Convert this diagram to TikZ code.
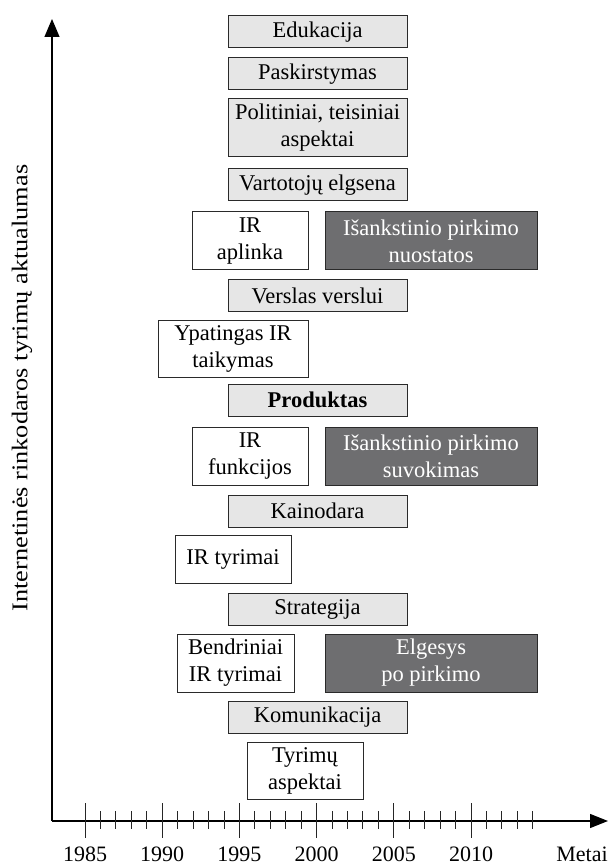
\documentclass[tikz,border=0pt]{standalone}
\usepackage{fontspec}
\setmainfont{Liberation Serif}
\usetikzlibrary{arrows.meta}
\definecolor{lightbox}{HTML}{E6E6E6}
\definecolor{darkbox}{HTML}{6E6E70}
\definecolor{edge}{HTML}{2A2A2A}
\begin{document}
\begin{tikzpicture}[x=1pt,y=-1pt,
  every node/.style={font=\fontsize{22.5}{27}\selectfont, align=center, inner sep=0pt},
  topic/.style={draw=edge, line width=1pt, fill=lightbox, minimum width=179pt, minimum height=32pt},
  topictall/.style={topic, minimum height=58pt},
  itbox/.style={draw=edge, line width=1pt, fill=white, minimum width=116pt, minimum height=58pt},
  stagebox/.style={draw=edge, line width=1pt, fill=darkbox, text=white, minimum width=212pt, minimum height=58pt},
  axisline/.style={line width=1.2pt, draw=black},
  tickline/.style={line width=0.9pt, draw=black!85},
  yearlabel/.style={font=\fontsize{22}{24}\selectfont}
]
\useasboundingbox (0,0) rectangle (612,866);

% axes
\coordinate (O) at (52,821);
\coordinate (xend) at (608,821);
\coordinate (yend) at (52,19);
\draw[axisline, -{Triangle[length=18pt,width=14pt]}] (O) -- (xend);
\draw[axisline, -{Triangle[length=18pt,width=15pt]}] (O) -- (yend);

% ticks
\foreach \k in {0,...,29}{
  \pgfmathsetmacro{\tx}{85+15.44*\k}
  \pgfmathtruncatemacro{\m}{mod(\k,5)}
  \ifnum\m=0
    \draw[tickline] (\tx,803) -- (\tx,838);
  \else
    \draw[tickline] (\tx,811) -- (\tx,829);
  \fi
}
\foreach \yr [count=\i from 0] in {1985,1990,1995,2000,2005,2010}{
  \node[yearlabel] (yr\yr) at (85+77.2*\i,854) {\yr};
}
\node[yearlabel] (metai) at (582,854) {Metai};

\node[rotate=90] (ylab) at (22,388) {\scalebox{1.17}[1]{Internetinės rinkodaros tyrimų aktualumas}};

% boxes
\node[topic] (edu) at (317.5,32) {Edukacija};
\node[topic] (pask) at (317.5,74) {Paskirstymas};
\node[topictall] (pol) at (317.5,128) {Politiniai, teisiniai\\aspektai};
\node[topic] (vart) at (317.5,185) {Vartotojų elgsena};
\node[itbox] (irapl) at (250,241) {IR\\aplinka};
\node[stagebox] (nuost) at (431,241) {Išankstinio pirkimo\\nuostatos};
\node[topic] (b2b) at (317.5,295.5) {Verslas verslui};
\node[itbox, minimum width=150pt, minimum height=57pt] (ypat) at (233,348.5) {Ypatingas IR\\taikymas};
\node[topic] (prod) at (317.5,400) {\bfseries Produktas};
\node[itbox] (irfunk) at (250,456.5) {IR\\funkcijos};
\node[stagebox] (suvok) at (431,456.5) {Išankstinio pirkimo\\suvokimas};
\node[topic] (kain) at (317.5,511) {Kainodara};
\node[itbox, minimum height=48pt] (irtyr) at (233,559) {IR tyrimai};
\node[topic] (strat) at (317.5,609) {Strategija};
\node[itbox, minimum width=117pt] (bendr) at (235.5,663) {Bendriniai\\IR tyrimai};
\node[stagebox] (elg) at (431,663) {Elgesys\\po pirkimo};
\node[topic] (kom) at (317.5,717.5) {Komunikacija};
\node[itbox, minimum height=57pt] (tyrasp) at (305,770.5) {Tyrimų\\aspektai};
\end{tikzpicture}
\end{document}
